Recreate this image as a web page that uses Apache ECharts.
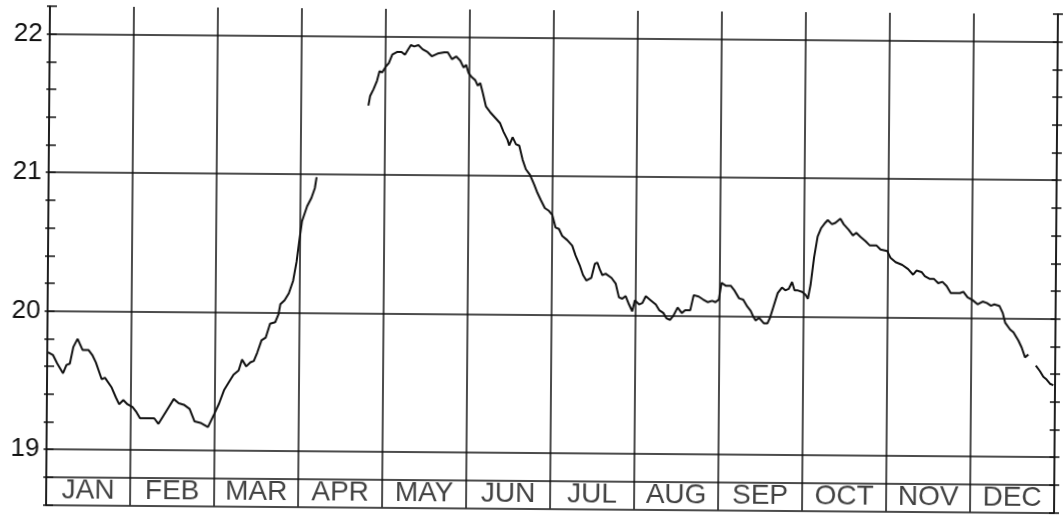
<!DOCTYPE html>
<html>
<head>
<meta charset="utf-8">
<script src="https://cdn.jsdelivr.net/npm/echarts@6/dist/echarts.min.js"></script>
<style>
html,body{margin:0;padding:0;background:#fff;}
#chart{width:1063px;height:518px;transform:rotate(0.45deg);}
</style>
</head>
<body>
<div id="chart"></div>
<script>
// Month labels (each month is one unit on the x axis)
const months = ['JAN','FEB','MAR','APR','MAY','JUN','JUL','AUG','SEP','OCT','NOV','DEC'];
// Y tick labels shown
const yLabels = [19, 20, 21, 22];
// Horizontal rules (label strip top + grid values)
const hRules = [18.8, 19, 20, 21, 22];

// Curve: position in months (0 = 1 Jan, 12 = 31 Dec) and value; null = gap in record
const monthPos = [
  0.01,0.07,0.12,0.19,0.23,0.27,0.31,0.36,0.42,0.49,0.54,0.58,0.65,0.69,0.77,0.82,0.86,0.91,0.96,
  1.02,1.06,1.11,1.16,1.22,1.28,1.33,1.39,1.45,1.51,1.57,1.63,1.70,1.76,1.83,1.92,1.99,
  2.05,2.11,2.16,2.22,2.28,2.32,2.37,2.42,2.46,2.50,2.55,2.60,2.65,2.71,2.75,2.77,2.82,2.87,2.92,2.96,2.99,
  3.02,3.08,3.13,3.17,3.19,
  3.50,
  3.80,3.82,3.86,3.90,3.93,3.96,4.00,4.04,4.08,4.14,4.19,4.23,4.26,4.30,4.34,4.39,4.44,4.50,4.55,4.62,4.70,4.74,4.79,4.84,4.89,4.93,4.96,4.99,
  5.03,5.07,5.10,5.13,5.16,5.20,5.25,5.31,5.37,5.41,5.46,5.48,5.52,5.56,5.60,5.64,5.68,5.73,5.78,5.82,5.86,5.91,5.96,
  6.00,6.04,6.08,6.12,6.18,6.24,6.28,6.33,6.37,6.41,6.47,6.51,6.54,6.57,6.60,6.64,6.71,6.76,6.80,6.84,6.88,6.92,6.96,6.99,
  7.04,7.08,7.12,7.18,7.24,7.28,7.33,7.37,7.41,7.45,7.50,7.55,7.59,7.65,7.69,7.75,7.80,7.86,7.91,7.95,7.99,
  8.02,8.07,8.13,8.17,8.23,8.28,8.33,8.37,8.40,8.43,8.47,8.49,8.53,8.57,8.60,8.64,8.69,8.74,8.78,8.82,8.86,8.89,8.93,8.98,
  9.02,9.05,9.08,9.12,9.16,9.20,9.25,9.28,9.33,9.37,9.43,9.47,9.53,9.58,9.62,9.67,9.73,9.78,9.86,9.91,9.99,
  10.03,10.09,10.17,10.24,10.30,10.34,10.40,10.44,10.50,10.55,10.60,10.65,10.70,10.75,10.80,10.86,10.90,10.95,
  11.01,11.07,11.13,11.18,11.23,11.27,11.33,11.37,11.40,11.46,11.50,11.56,11.60,11.64,11.68,
  11.72,
  11.77,11.82,11.86,11.90,11.94,11.98
];
const temp = [
  19.70,19.68,19.62,19.55,19.61,19.62,19.74,19.80,19.72,19.72,19.68,19.63,19.51,19.52,19.45,19.38,19.33,19.36,19.33,
  19.31,19.28,19.23,19.23,19.23,19.23,19.19,19.25,19.31,19.37,19.34,19.33,19.30,19.21,19.20,19.17,19.26,
  19.34,19.44,19.49,19.55,19.58,19.66,19.61,19.64,19.65,19.71,19.80,19.82,19.92,19.93,19.99,20.06,20.09,20.14,20.23,20.37,20.52,
  20.66,20.77,20.83,20.90,20.98,
  null,
  21.50,21.57,21.62,21.68,21.75,21.74,21.78,21.81,21.87,21.89,21.89,21.87,21.90,21.94,21.93,21.94,21.91,21.89,21.86,21.88,21.89,21.89,21.84,21.86,21.83,21.78,21.80,21.74,
  21.71,21.69,21.65,21.67,21.60,21.50,21.46,21.42,21.38,21.32,21.26,21.22,21.28,21.23,21.22,21.12,21.05,21.01,20.94,20.88,20.83,20.77,20.75,
  20.72,20.63,20.62,20.57,20.54,20.50,20.43,20.36,20.29,20.25,20.27,20.37,20.38,20.33,20.29,20.30,20.27,20.23,20.13,20.12,20.14,20.08,20.03,20.11,
  20.08,20.09,20.14,20.11,20.08,20.04,20.02,19.98,19.97,20.00,20.06,20.02,20.04,20.04,20.15,20.14,20.12,20.10,20.11,20.10,20.12,
  20.24,20.22,20.22,20.19,20.13,20.12,20.07,20.04,20.00,19.97,19.99,19.98,19.95,19.95,19.99,20.07,20.17,20.21,20.19,20.20,20.25,20.19,20.19,20.18,
  20.16,20.13,20.23,20.43,20.58,20.64,20.68,20.70,20.67,20.68,20.71,20.67,20.63,20.59,20.61,20.58,20.55,20.52,20.52,20.49,20.48,
  20.43,20.40,20.38,20.35,20.31,20.34,20.33,20.30,20.28,20.28,20.25,20.26,20.23,20.18,20.18,20.18,20.19,20.15,
  20.13,20.10,20.12,20.11,20.09,20.10,20.09,20.04,19.97,19.92,19.90,19.84,19.79,19.72,19.74,
  null,
  19.66,19.62,19.58,19.56,19.53,19.52
];

const INK = '#111';
const FONT = 'Liberation Sans';
const Y_MIN = 18.6, Y_MAX = 22.2, Y_STEP = 0.2;

const chart = echarts.init(document.getElementById('chart'), null, {renderer: 'canvas'});

function yAxisBase(extra) {
  return Object.assign({
    type: 'value', min: Y_MIN, max: Y_MAX, interval: Y_STEP,
    splitLine: {show: false},
    axisLabel: {show: false},
    axisLine: {show: false}
  }, extra);
}

const option = {
  backgroundColor: '#fff',
  animation: false,
  grid: {left: 48, right: 7, top: 10, bottom: 9.5},
  xAxis: {
    type: 'value', min: 0, max: 12, interval: 1,
    axisLine: {show: true, lineStyle: {color: INK, width: 1.5}},
    axisTick: {show: false},
    axisLabel: {show: false},
    splitLine: {show: true, lineStyle: {color: INK, width: 1.5}}
  },
  yAxis: [
    yAxisBase({
      position: 'left',
      axisLine: {show: true, lineStyle: {color: INK, width: 1.5}},
      axisTick: {show: true, inside: true, length: 7, lineStyle: {color: INK, width: 1.5}},
      axisLabel: {
        show: true, margin: 7, color: INK, fontFamily: FONT, fontSize: 26,
        formatter: function (v) {
          const r = Math.round(v);
          return (Math.abs(v - r) < 1e-6 && yLabels.indexOf(r) >= 0) ? String(r) : '';
        }
      }
    }),
    yAxisBase({
      position: 'left',
      axisTick: {show: true, inside: false, length: 3, lineStyle: {color: INK, width: 1.5}}
    }),
    yAxisBase({
      position: 'right',
      axisLine: {show: true, lineStyle: {color: INK, width: 1.5}},
      axisTick: {show: true, inside: true, length: 5, lineStyle: {color: INK, width: 1.5}}
    }),
    yAxisBase({
      position: 'right',
      axisTick: {show: true, inside: false, length: 5, lineStyle: {color: INK, width: 1.5}}
    })
  ],
  series: [
    {
      type: 'line',
      yAxisIndex: 0,
      data: monthPos.map((x, i) => [x, temp[i]]),
      showSymbol: false,
      connectNulls: false,
      lineStyle: {color: INK, width: 2},
      silent: true,
      markLine: {
        silent: true,
        symbol: 'none',
        label: {show: false},
        lineStyle: {color: INK, width: 1.5, type: 'solid'},
        data: hRules.map(v => ({yAxis: v}))
      }
    },
    {
      type: 'scatter',
      yAxisIndex: 0,
      symbolSize: 0,
      silent: true,
      data: months.map((m, i) => [i + 0.5, 18.7]),
      label: {
        show: true, position: 'inside', color: INK, fontFamily: FONT, fontSize: 28,
        formatter: p => months[p.dataIndex]
      }
    }
  ]
};
chart.setOption(option);
</script>
</body>
</html>
